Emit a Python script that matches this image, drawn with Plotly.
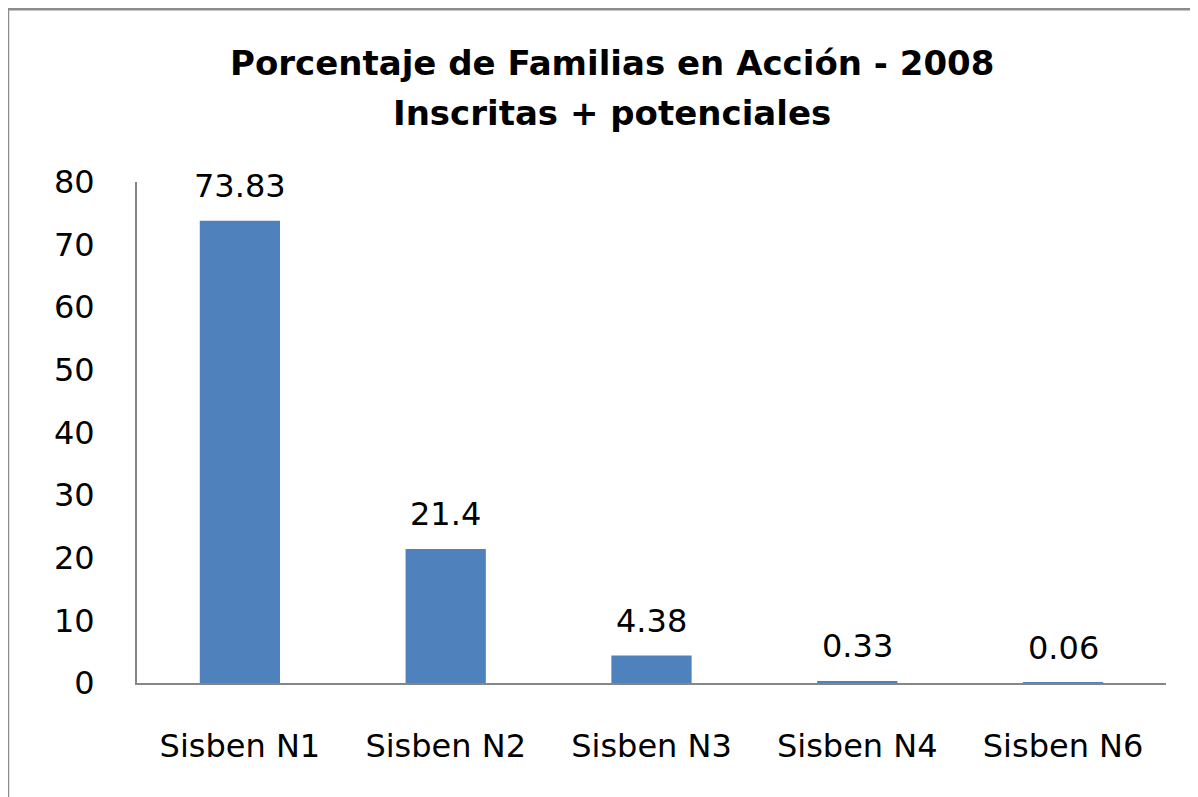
import plotly.graph_objects as go

categories = ["Sisben N1", "Sisben N2", "Sisben N3", "Sisben N4", "Sisben N6"]
values = [73.83, 21.4, 4.38, 0.33, 0.06]
value_labels = ["73.83", "21.4", "4.38", "0.33", "0.06"]
y_ticks = [0, 10, 20, 30, 40, 50, 60, 70, 80]
title_lines = ["Porcentaje de Familias en Acción - 2008", "Inscritas + potenciales"]

FONT = "DejaVu Sans, sans-serif"
AXIS_GREY = "#868686"

fig = go.Figure(go.Bar(
    x=categories,
    y=values,
    marker_color="#4F81BD",
    marker_line_width=0,
))

# value labels sit well above each bar, like the Excel original
for cat, val, lab in zip(categories, values, value_labels):
    fig.add_annotation(
        x=cat, y=val, text=lab, showarrow=False,
        yanchor="middle", yshift=35,
        font=dict(family=FONT, size=32, color="#000000"),
    )

# two-line bold title, placed line by line for the wider Excel spacing
for text, ypos in zip(title_lines, [1.2375, 1.1377]):
    fig.add_annotation(
        xref="paper", yref="paper", x=0.4616, y=ypos,
        xanchor="center", yanchor="middle", text=text, showarrow=False,
        font=dict(family=FONT, size=34, color="#000000", weight="bold"),
    )

# outer chart border
fig.add_shape(
    type="rect", xref="paper", yref="paper",
    x0=-0.1254, x1=1.2, y0=-0.4, y1=1.345,
    line=dict(color="#8c8c8c", width=2.5),
    fillcolor="rgba(0,0,0,0)", layer="below",
)

# page body has an 8px margin, so the figure is 8px smaller than the window
fig.update_layout(
    width=1190,
    height=789,
    margin=dict(l=129, r=32, t=174, b=114),
    paper_bgcolor="white",
    plot_bgcolor="white",
    showlegend=False,
    bargap=0.61,
    xaxis=dict(
        showline=True, linecolor=AXIS_GREY, linewidth=2,
        ticks="", showgrid=False,
        tickfont=dict(family=FONT, size=32, color="#000000"),
        ticklabelstandoff=34,
    ),
    yaxis=dict(
        range=[0, 80], tickvals=y_ticks,
        showline=True, linecolor=AXIS_GREY, linewidth=2,
        ticks="", showgrid=False, zeroline=False,
        tickfont=dict(family=FONT, size=32, color="#000000"),
        ticklabelstandoff=34,
    ),
)

fig.write_html("out.html")
